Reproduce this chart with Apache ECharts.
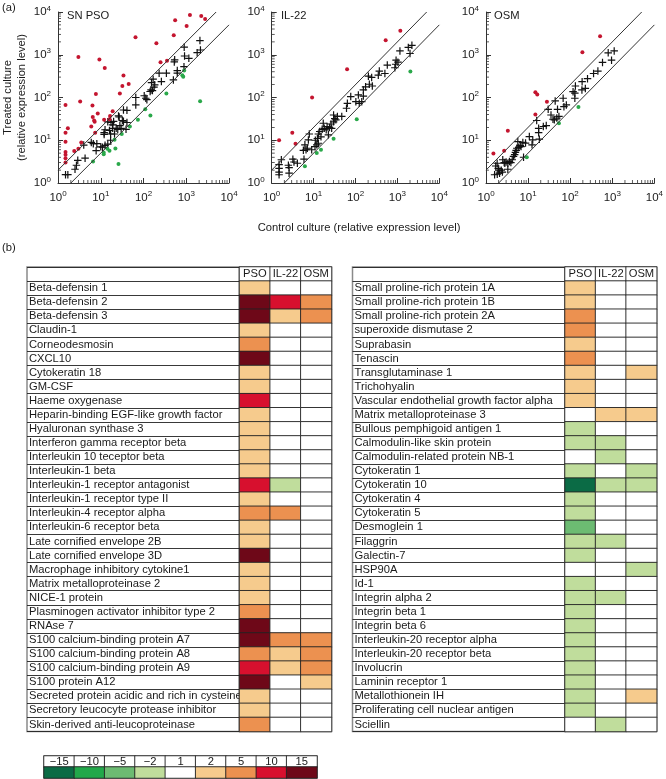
<!DOCTYPE html>
<html>
<head>
<meta charset="utf-8">
<style>html,body{margin:0;padding:0;background:#fff}#chart{width:666px;height:779px}</style>
<script src="https://cdn.jsdelivr.net/npm/echarts@6/dist/echarts.min.js"></script>
</head>
<body>
<div id="chart"></div>
<script>
// scatter values, [control, treated]
var psoUp = [[1.5,67],[1.7,19],[1.5,15],[1.5,9.2],[1.5,5.3],[1.5,4.6],[1.5,3.8],[1.5,3],[2.4,5.6],[3,6.3],[3.5,8.9],[3,890],[3.3,81],[6.4,65],[7.7,120],[6.5,35],[8.5,42],[6,21],[7.2,27],[7,29],[7.4,15],[9.3,770],[12.4,490],[12,30],[16.5,37],[19,48],[16,31],[34,325],[32,187],[28,124],[45,208],[65,2570],[200,1860],[250,670],[355,725],[510,2850],[550,6400],[1020,4700],[1220,8500],[2240,8070],[2760,6870]];
var psoDown = [[6.6,3.2],[11.7,4.7],[11.7,5.2],[14.3,6.3],[16,5.7],[22,6.4],[26,2.8],[31,14],[21,10.3],[48,21],[74,30],[110,53],[145,38],[343,124],[810,330],[850,304],[895,427],[2110,82]];
var psoSame = [[1.5,1.57],[1.7,1.57],[2.5,2.1],[2.7,2.6],[2.9,3.4],[4.3,3.8],[4,7.7],[6,8.9],[6.7,8.3],[8.1,8.3],[7.8,5.7],[11,6.9],[12.6,7.6],[14.6,8.1],[17,10],[12,15],[12,13.7],[12.6,17.6],[14.6,27],[17.4,26],[20,27.5],[19,23],[16,17],[19,19],[23,19],[25,18],[17,14],[27,35],[34,51],[41,50],[32,29],[34,28],[41,26],[30,19],[39,18],[26,37],[66,100],[66,67],[104,110],[113,96],[120,89],[143,138],[162,145],[154,224],[168,268],[183,198],[176,174],[150,150],[232,370],[343,370],[262,236],[500,258],[536,760],[525,680],[617,427],[617,370],[895,1500],[912,935],[1150,825],[885,525],[2090,2140],[2150,1290],[1800,1120],[10,7],[21,14],[28,22]];

var il22Up = [[1.5,10],[3.1,15],[3.7,8.3],[9.2,100],[63,455],[525,2190],[1175,3630]];
var il22Down = [[6.2,2.45],[11.9,5],[15,6],[30,10.8],[107,31],[2040,407]];
var il22Same = [[1.5,1.56],[1.5,1.8],[1.5,2.2],[1.5,2.7],[1.7,3.5],[2.5,2.6],[2.6,2.3],[2.6,1.7],[3.2,3.6],[3.4,3.1],[4.1,2.9],[5.9,3.6],[5.7,5.8],[6.6,6],[7.1,6.5],[6.2,7.8],[7.5,10.2],[7.9,14],[10.8,7.1],[11.9,7.8],[13,8.5],[12.3,11],[13,14],[14,16],[17,25],[18,19],[20,17.5],[24,20],[22.5,13.4],[27,19],[30,27],[32,32],[30,39],[37,36],[47,36],[61,56],[64,73],[77,105],[102,80],[123,73],[141,80],[117,115],[154,108],[154,150],[174,178],[214,204],[252,186],[203,316],[243,295],[350,333],[370,415],[503,364],[574,574],[930,745],[910,600],[1030,670],[1150,1230],[870,496],[1820,1480],[2220,1660],[2000,1070],[15,12],[16,18],[21,21],[26,24],[9,6],[11,10],[34,30]];

var osmUp = [[1.5,4.9],[2.7,5.7],[3.3,16.6],[14.9,132],[16.5,118],[14.9,40],[28,80],[195,1150],[513,2700]];
var osmDown = [[9.3,4],[54,25],[157,60]];
var osmSame = [[1.6,1.56],[1.85,1.6],[2.1,1.7],[2.45,1.8],[1.7,2.5],[1.84,2.9],[1.95,2.2],[2.5,3.5],[2.8,2.9],[3.3,2.9],[3.9,3],[3.3,2.1],[4.2,3.5],[4.8,4.6],[5.2,5.8],[5.7,9.3],[5.4,6.5],[6.8,7.1],[7.5,8.9],[8.7,8.6],[7.8,4],[10.7,12.2],[12.4,7.8],[12.9,10.2],[16,29],[17.8,19],[17.8,15],[18.5,10.6],[23,21],[27,22],[30,53],[35,39],[39,31],[44,83],[50,53],[54,36],[68,96],[71,61],[81,67],[117,137],[133,186],[129,96],[129,126],[192,234],[229,163],[190,150],[258,275],[359,364],[455,414],[586,660],[800,1110],[960,745],[1110,1230],[2,2],[2.3,2],[2.7,3],[3,3.1],[3.6,3.2],[4.5,4.2],[5,5.2],[6,6.8],[6.5,7.5],[48,33],[42,30]];

var upperLine = [[1,2],[5000,10000]];
var lowerLine = [[2,1],[10000,5000]];
var minorTicks = [2,3,4,5,6,7,8,9,20,30,40,50,60,70,80,90,200,300,400,500,600,700,800,900,2000,3000,4000,5000,6000,7000,8000,9000];

// regulation tables, columns PSO / IL-22 / OSM
var columns = ['PSO','IL-22','OSM'];
var leftGenes = ['Beta-defensin 1','Beta-defensin 2','Beta-defensin 3','Claudin-1','Corneodesmosin','CXCL10','Cytokeratin 18','GM-CSF','Haeme oxygenase','Heparin-binding EGF-like growth factor','Hyaluronan synthase 3','Interferon gamma receptor beta','Interleukin 10 teceptor beta','Interleukin-1 beta','Interleukin-1 receptor antagonist','Interleukin-1 receptor type II','Interleukin-4 receptor alpha','Interleukin-6 receptor beta','Late cornified envelope 2B','Late cornified envelope 3D','Macrophage inhibitory cytokine1','Matrix metalloproteinase 2','NICE-1 protein','Plasminogen activator inhibitor type 2','RNAse 7','S100 calcium-binding protein A7','S100 calcium-binding protein A8','S100 calcium-binding protein A9','S100 protein A12','Secreted protein acidic and rich in cysteine','Secretory leucocyte protease inhibitor','Skin-derived anti-leucoproteinase'];
var leftPso = [2,15,15,2,5,15,2,2,10,2,2,2,2,2,10,2,5,2,2,15,2,2,2,5,15,15,5,10,15,2,2,5];
var leftIl22 = [1,10,2,1,1,1,1,1,1,1,1,1,1,1,-2,1,5,1,1,1,1,1,1,1,1,5,2,2,1,1,1,1];
var leftOsm = [1,5,5,1,1,1,1,1,1,1,1,1,1,1,1,1,1,1,1,1,1,1,1,1,1,5,5,5,2,1,1,1];

var rightGenes = ['Small proline-rich protein 1A','Small proline-rich protein 1B','Small proline-rich protein 2A','superoxide dismutase 2','Suprabasin','Tenascin','Transglutaminase 1','Trichohyalin','Vascular endothelial growth factor alpha','Matrix metalloproteinase 3','Bullous pemphigoid antigen 1','Calmodulin-like skin protein','Calmodulin-related protein NB-1','Cytokeratin 1','Cytokeratin 10','Cytokeratin 4','Cytokeratin 5','Desmoglein 1','Filaggrin','Galectin-7','HSP90A','Id-1','Integrin alpha 2','Integrin beta 1','Integrin beta 6','Interleukin-20 receptor alpha','Interleukin-20 receptor beta','Involucrin','Laminin receptor 1','Metallothionein IH','Proliferating cell nuclear antigen','Sciellin'];
var rightPso = [2,2,5,5,2,5,2,2,2,1,-2,-2,1,-2,-15,-2,-2,-5,-2,-2,1,-2,-2,-2,-2,-2,-2,-2,-2,-2,-2,1];
var rightIl22 = [1,1,1,1,1,1,1,1,1,2,1,-2,-2,1,-2,1,1,1,-2,1,1,1,-2,1,1,1,1,1,1,1,1,-2];
var rightOsm = [1,1,1,1,1,1,2,1,1,2,1,1,1,-2,-2,1,1,1,1,1,-2,1,1,1,1,1,1,1,1,2,1,1];

var levels = [-15,-10,-5,-2,1,2,5,10,15];
var levelColors = ['#0b6b45','#22a84a','#6cbb72','#c0dd9c','#ffffff','#f6cb8d','#ec9150','#d7102e','#6e0818'];

var font = '"Liberation Sans", Arial, sans-serif';
var ink = '#1a1a1a';
var textSize = 11.2;
var grids = [], xAxes = [], yAxes = [], series = [], titles = [];

function colorOf(level) {
  return levelColors[levels.indexOf(level)];
}

function addScatter(left, width, up, down, same, extraY) {
  var g = grids.length;
  grids.push({left: left, top: 12, width: width, height: 171});
  var mainAxis = {
    type: 'log', logBase: 10, min: 1, max: 10000, gridIndex: g,
    axisLine: {onZero: false, lineStyle: {color: '#333', width: 1}},
    axisTick: {inside: true, length: 5, lineStyle: {color: '#333', width: 1}},
    axisLabel: {
      color: ink, fontFamily: font, fontSize: 11.5, margin: 7,
      formatter: function (v) { return '10{s|' + Math.round(Math.log10(v)) + '}'; },
      rich: {s: {fontSize: 8, fontFamily: font, color: ink, verticalAlign: 'top', lineHeight: 15}}
    },
    splitLine: {show: false}
  };
  var x0 = xAxes.length, y0 = yAxes.length;
  xAxes.push(Object.assign({position: 'bottom'}, mainAxis));
  yAxes.push(Object.assign({position: 'left'}, mainAxis, extraY || {}));
  // short log ticks along both axes
  series.push({type: 'scatter', xAxisIndex: x0, yAxisIndex: y0, silent: true, symbol: 'rect',
    symbolSize: [0.8, 3], symbolOffset: [0, -1.5], itemStyle: {color: '#333', opacity: 1},
    data: minorTicks.map(function (v) { return [v, 1]; })});
  series.push({type: 'scatter', xAxisIndex: x0, yAxisIndex: y0, silent: true, symbol: 'rect',
    symbolSize: [3, 0.8], symbolOffset: [1.5, 0], itemStyle: {color: '#333', opacity: 1},
    data: minorTicks.map(function (v) { return [1, v]; })});
  [upperLine, lowerLine].forEach(function (d) {
    series.push({type: 'line', xAxisIndex: x0, yAxisIndex: y0, data: d, showSymbol: false, silent: true,
      lineStyle: {color: '#333', width: 1}});
  });
  series.push({type: 'scatter', xAxisIndex: x0, yAxisIndex: y0, data: same, symbolSize: 7.5,
    symbol: 'path://M4.2 0h1.6v4.2H10v1.6H5.8V10H4.2V5.8H0V4.2H4.2z', itemStyle: {color: '#111', opacity: 1}});
  series.push({type: 'scatter', xAxisIndex: x0, yAxisIndex: y0, data: up, symbolSize: 4, itemStyle: {color: '#c4152f', opacity: 1}});
  series.push({type: 'scatter', xAxisIndex: x0, yAxisIndex: y0, data: down, symbolSize: 4, itemStyle: {color: '#2aa84a', opacity: 1}});
}

function cellLabel(text) {
  return {show: true, formatter: text, color: ink, fontFamily: font, fontSize: textSize};
}

function addCategoryGrid(rect, cols, rows) {
  var g = grids.length, x0 = xAxes.length, y0 = yAxes.length;
  grids.push(Object.assign({show: true, borderColor: '#8a8a8a', borderWidth: 1.5, backgroundColor: '#fff'}, rect));
  xAxes.push({type: 'category', gridIndex: g, data: cols, show: false});
  yAxes.push({type: 'category', gridIndex: g, data: rows, inverse: true, show: false});
  return {x: x0, y: y0};
}

function addTable(labelLeft, heatLeft, right, genes, pso, il22, osm) {
  var rows = [''].concat(genes);
  // gene name column
  var lg = grids.length;
  grids.push({show: true, borderColor: '#8a8a8a', borderWidth: 1.5, left: labelLeft, top: 267, width: heatLeft - labelLeft, height: 464.5});
  xAxes.push({type: 'value', gridIndex: lg, min: 0, max: 1, show: false});
  yAxes.push({type: 'category', gridIndex: lg, data: rows, inverse: true,
    axisLine: {show: false}, axisTick: {show: false},
    splitLine: {show: true, lineStyle: {color: '#222', width: 0.9}},
    axisLabel: {inside: true, margin: 2, align: 'left', interval: 0, color: ink, fontFamily: font, fontSize: textSize}});
  // fold change cells
  var ax = addCategoryGrid({left: heatLeft, top: 267, width: right - heatLeft, height: 464.5}, columns, rows);
  var data = [];
  columns.forEach(function (name, c) {
    data.push({value: [c, 0, 1], itemStyle: {color: '#fff'}, label: cellLabel(name)});
    [pso, il22, osm][c].forEach(function (lv, r) {
      data.push({value: [c, r + 1, lv], itemStyle: {color: colorOf(lv)}});
    });
  });
  series.push({type: 'heatmap', xAxisIndex: ax.x, yAxisIndex: ax.y, data: data, silent: true,
    itemStyle: {borderColor: '#222', borderWidth: 0.9}});
}

addScatter(57, 172, psoUp, psoDown, psoSame, {
  name: 'Treated culture\n(relative expression level)', nameLocation: 'middle', nameRotate: 90, nameGap: 29,
  nameTextStyle: {color: ink, fontFamily: font, fontSize: textSize, lineHeight: 14}
});
addScatter(271.7, 167.6, il22Up, il22Down, il22Same);
addScatter(486, 170.7, osmUp, osmDown, osmSame);

addTable(27, 239.5, 331.5, leftGenes, leftPso, leftIl22, leftOsm);
addTable(352.5, 565, 656.7, rightGenes, rightPso, rightIl22, rightOsm);

// colour key
var keyAxes = addCategoryGrid({left: 44, top: 756, width: 273, height: 22}, levels.map(String), ['label', 'colour']);
var keyData = [];
levels.forEach(function (lv, i) {
  keyData.push({value: [i, 0, lv], itemStyle: {color: '#fff'}, label: cellLabel(String(lv).replace('-', '\u2212'))});
  keyData.push({value: [i, 1, lv], itemStyle: {color: colorOf(lv)}});
});
series.push({type: 'heatmap', xAxisIndex: keyAxes.x, yAxisIndex: keyAxes.y, data: keyData, silent: true,
  itemStyle: {borderColor: '#222', borderWidth: 0.9}});

function addText(text, left, top, align) {
  titles.push({text: text, left: left, top: top, textAlign: align || 'left', padding: 0,
    textStyle: {color: ink, fontFamily: font, fontSize: textSize, fontWeight: 'normal'}});
}
addText('(a)', 2, 2);
addText('(b)', 2, 242);
addText('SN PSO', 67, 10);
addText('IL-22', 281, 10);
addText('OSM', 494, 10);
addText('Control culture (relative expression level)', 359, 222, 'center');

var chart = echarts.init(document.getElementById('chart'), null, {renderer: 'canvas'});
chart.setOption({
  animation: false,
  backgroundColor: '#fff',
  title: titles,
  grid: grids,
  xAxis: xAxes,
  yAxis: yAxes,
  series: series
});
</script>
</body>
</html>
